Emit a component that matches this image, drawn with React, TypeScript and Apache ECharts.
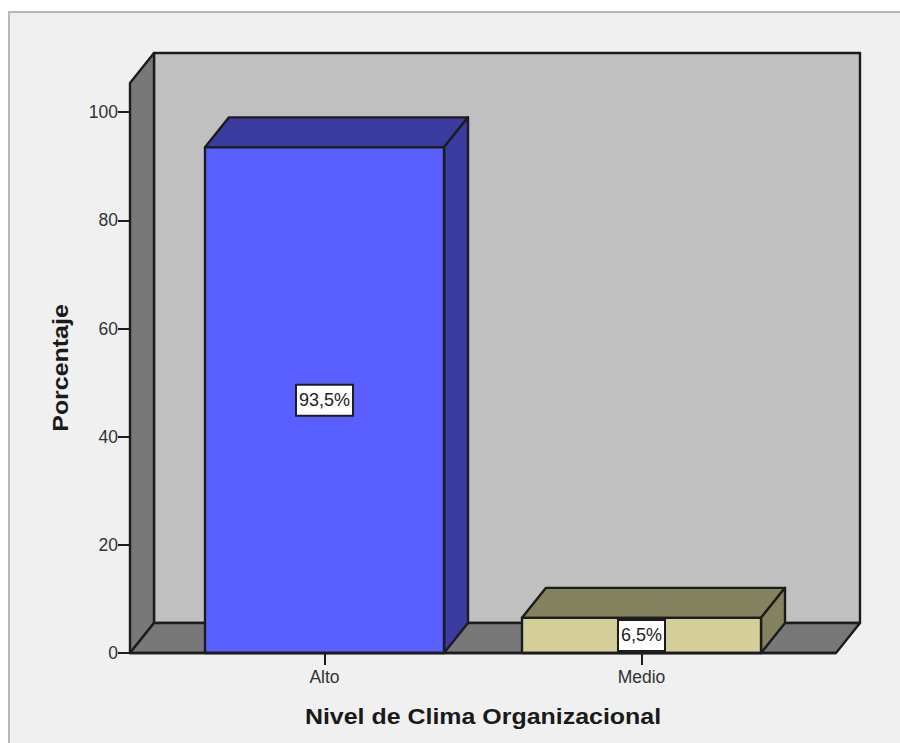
import React, { useEffect, useRef } from "react";
import * as echarts from "echarts";

const categories = ["Alto", "Medio"];
const percentages = [93.5, 6.5];
const yTicks = [0, 20, 40, 60, 80, 100];
const xAxisTitle = "Nivel de Clima Organizacional";
const yAxisTitle = "Porcentaje";

const faceColors = [
  { front: "#5a60ff", top: "#3a3c9f", side: "#3a3c9f" },
  { front: "#d4cf98", top: "#85835f", side: "#85835f" },
];

const INK = "#1c1c1c";
const DEPTH_X = 24;
const DEPTH_Y = -30;
const AXIS_MAX = 105.4;
const GRID = { left: 166, top: 83, width: 634, height: 570 };
const FLOOR_LEFT = 130;
const FLOOR_RIGHT = 836;

function poly(points: number[][], fill: string) {
  return {
    type: "polygon",
    shape: { points },
    style: { fill, stroke: INK, lineWidth: 2.4, lineJoin: "round" },
  };
}

// Back wall, side wall and floor of the box behind the bars.
function renderBox(_params: any, api: any) {
  const y0 = api.coord([0, 0])[1];
  const yTop = api.coord([0, AXIS_MAX])[1];
  const l = FLOOR_LEFT;
  const r = FLOOR_RIGHT;
  const dx = DEPTH_X;
  const dy = DEPTH_Y;
  return {
    type: "group",
    children: [
      poly([[l + dx, yTop + dy], [r + dx, yTop + dy], [r + dx, y0 + dy], [l + dx, y0 + dy]], "#c0c0c0"),
      poly([[l, yTop], [l + dx, yTop + dy], [l + dx, y0 + dy], [l, y0]], "#787878"),
      poly([[l, y0], [l + dx, y0 + dy], [r + dx, y0 + dy], [r, y0]], "#787878"),
    ],
  };
}

// A prism whose front face comes from the value, with its percentage in a white box.
function renderPrism(_params: any, api: any) {
  const i = api.value(0);
  const v = api.value(1);
  const [cx, yTop] = api.coord([i, v]);
  const y0 = api.coord([i, 0])[1];
  const half = (api.size([1, 0])[0] * 0.754) / 2;
  const l = cx - half;
  const r = cx + half;
  const c = faceColors[i];
  return {
    type: "group",
    children: [
      poly([[l, yTop], [l + DEPTH_X, yTop + DEPTH_Y], [r + DEPTH_X, yTop + DEPTH_Y], [r, yTop]], c.top),
      poly([[r, yTop], [r + DEPTH_X, yTop + DEPTH_Y], [r + DEPTH_X, y0 + DEPTH_Y], [r, y0]], c.side),
      poly([[l, yTop], [r, yTop], [r, y0], [l, y0]], c.front),
      {
        type: "text",
        x: cx,
        y: (yTop + y0) / 2,
        style: {
          text: `${v.toFixed(1).replace(".", ",")}%`,
          fill: "#222",
          font: "18px 'Liberation Sans'",
          align: "center",
          verticalAlign: "middle",
          backgroundColor: "#fff",
          borderColor: INK,
          borderWidth: 2,
          padding: [6, 2, 5, 2],
        },
      },
    ],
  };
}

export default function App() {
  const ref = useRef<HTMLDivElement>(null);

  useEffect(() => {
    const chart = echarts.init(ref.current!, undefined, { renderer: "svg" });
    chart.setOption({
      animation: false,
      backgroundColor: "#ffffff",
      graphic: [
        {
          type: "rect",
          z: -1,
          shape: { x: 9, y: 12, width: 920, height: 760 },
          style: { fill: "#f0f0f0", stroke: "#b8b8b8", lineWidth: 2 },
        },
        {
          type: "text",
          x: 483,
          y: 716,
          scaleX: 1.085,
          style: {
            text: xAxisTitle,
            font: "bold 23px 'Liberation Sans'",
            fill: "#1a1a1a",
            align: "center",
            verticalAlign: "middle",
          },
        },
        {
          type: "text",
          x: 60,
          y: 368,
          rotation: Math.PI / 2,
          scaleX: 1.085,
          style: {
            text: yAxisTitle,
            font: "bold 23px 'Liberation Sans'",
            fill: "#1a1a1a",
            align: "center",
            verticalAlign: "middle",
          },
        },
        {
          type: "line",
          z: 5,
          shape: { x1: FLOOR_LEFT, y1: 653, x2: FLOOR_RIGHT, y2: 653 },
          style: { stroke: INK, lineWidth: 2.4 },
        },
      ],
      grid: GRID,
      xAxis: {
        type: "category",
        data: categories,
        axisLine: { show: false },
        axisTick: { show: true, alignWithLabel: true, length: 12, lineStyle: { color: INK, width: 2 } },
        axisLabel: { color: "#333", fontFamily: "Liberation Sans", fontSize: 17.5, margin: 15 },
        z: 6,
      },
      yAxis: {
        type: "value",
        min: 0,
        max: AXIS_MAX,
        offset: 36,
        interval: 20,
        axisLine: { show: false },
        axisTick: { show: true, customValues: yTicks, length: 12, lineStyle: { color: INK, width: 2 } },
        axisLabel: {
          color: "#333",
          fontFamily: "Liberation Sans",
          fontSize: 17.5,
          margin: 12,
          customValues: yTicks,
          padding: [4, 0, 0, 0],
        },
        splitLine: { show: false },
      },
      series: [
        {
          type: "custom",
          z: 1,
          clip: false,
          renderItem: renderBox,
          data: [[0, 0]],
          silent: true,
        },
        {
          type: "custom",
          z: 3,
          clip: false,
          renderItem: renderPrism,
          data: categories.map((_, i) => [i, percentages[i]]),
          encode: { x: 0, y: 1 },
        },
      ],
    });
    return () => chart.dispose();
  }, []);

  return <div ref={ref} style={{ position: "fixed", left: 0, top: 0, width: 900, height: 743 }} />;
}
